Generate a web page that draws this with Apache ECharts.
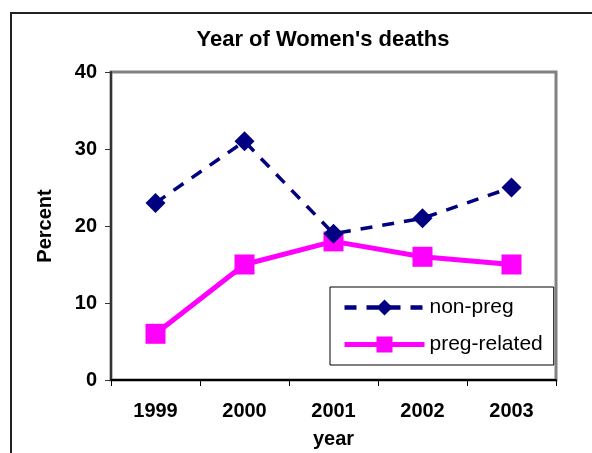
<!DOCTYPE html>
<html>
<head>
<meta charset="utf-8">
<script src="https://cdn.jsdelivr.net/npm/echarts@6/dist/echarts.min.js"></script>
<style>html,body{margin:0;padding:0;background:#fff}#c{width:592px;height:453px}</style>
</head>
<body>
<div id="c"></div>
<script>
var categories = ['1999', '2000', '2001', '2002', '2003'];
var nonPreg = [23, 31, 19, 21, 25];
var pregRelated = [6, 15, 18, 16, 15];
var yTicks = [0, 10, 20, 30, 40];

var FONT = '"Liberation Sans", Arial, sans-serif';
var chart = echarts.init(document.getElementById('c'), null, {renderer: 'canvas'});
chart.setOption({
  backgroundColor: '#fff',
  animation: false,
  title: {
    text: "Year of Women's deaths",
    left: 318, top: 24, textAlign: 'center',
    textStyle: {fontFamily: FONT, fontSize: 22, fontWeight: 'bold', color: '#000'}
  },
  graphic: [{
    type: 'polyline',
    shape: {points: [[11, 460], [11, 13], [600, 13]]},
    style: {stroke: '#222', lineWidth: 2, fill: null},
    silent: true
  }],
  grid: {left: 111, top: 72, right: 36, bottom: 73, show: true, containLabel: false, outerBoundsMode: 'none', borderColor: '#808080', borderWidth: 3, backgroundColor: '#fff'},
  legend: {
    orient: 'vertical',
    left: 330, top: 287,
    padding: [10, 11, 10, 12],
    itemWidth: 80, itemHeight: 20, itemGap: 16,
    borderColor: '#000', borderWidth: 1,
    backgroundColor: '#fff',
    textStyle: {fontFamily: FONT, fontSize: 21, color: '#000'},
    data: [
      {name: 'non-preg', lineStyle: {width: 4.5}},
      {name: 'preg-related', lineStyle: {width: 5}}
    ]
  },
  xAxis: {
    type: 'category',
    data: categories,
    boundaryGap: true,
    name: 'year', nameLocation: 'middle', nameGap: 49,
    nameTextStyle: {fontFamily: FONT, fontSize: 20, fontWeight: 'bold', color: '#000'},
    axisLine: {lineStyle: {color: '#000', width: 2}},
    axisTick: {show: true, interval: 0, length: 6, lineStyle: {color: '#000', width: 1}},
    axisLabel: {fontFamily: FONT, fontSize: 20, fontWeight: 'bold', color: '#000', margin: 21, interval: 0},
    splitLine: {show: false}
  },
  yAxis: {
    type: 'value',
    min: yTicks[0], max: yTicks[yTicks.length - 1], interval: 10,
    name: 'Percent', nameLocation: 'middle', nameGap: 56, nameRotate: 90,
    nameTextStyle: {fontFamily: FONT, fontSize: 20, fontWeight: 'bold', color: '#000'},
    axisLine: {show: true, lineStyle: {color: '#333', width: 2}},
    axisTick: {show: true, length: 6, lineStyle: {color: '#333', width: 1}},
    axisLabel: {fontFamily: FONT, fontSize: 20, fontWeight: 'bold', color: '#000', margin: 14},
    splitLine: {show: false}
  },
  series: [{
    name: 'non-preg',
    type: 'line',
    data: nonPreg,
    symbol: 'diamond', symbolSize: 20,
    itemStyle: {color: '#000080'},
    lineStyle: {color: '#000080', width: 3.5, type: [12, 10]},
    z: 3
  }, {
    name: 'preg-related',
    type: 'line',
    data: pregRelated,
    symbol: 'rect', symbolSize: 20,
    itemStyle: {color: '#FF00FF'},
    lineStyle: {color: '#FF00FF', width: 5},
    z: 2
  }]
});
</script>
</body>
</html>
